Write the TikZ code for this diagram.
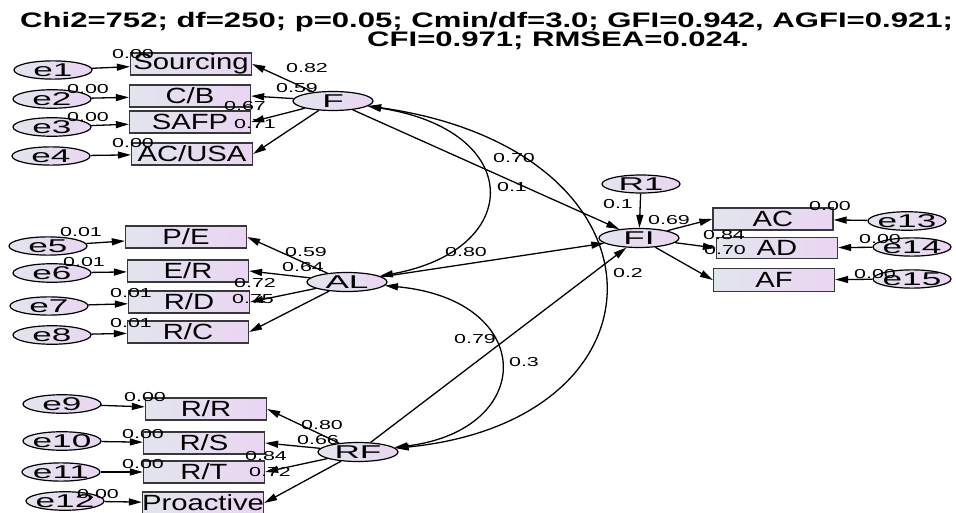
\documentclass[tikz,border=0pt]{standalone}
\usepackage{fontspec}
\setmainfont{Liberation Sans}
\newfontfamily\boxfont{Liberation Sans}[FakeStretch=1.33]
\newfontfamily\ellfont{Liberation Sans}[FakeStretch=1.9]
\newfontfamily\numfont{Liberation Sans}[FakeStretch=1.65]
\newfontfamily\titlefont{Liberation Sans}[FakeStretch=1.48]
\usetikzlibrary{arrows.meta,shapes.geometric}
\definecolor{gl}{RGB}{226,229,238}
\definecolor{gr}{RGB}{234,213,242}
\definecolor{boxc}{RGB}{55,55,60}
\tikzset{
  zerow/.style={execute at begin node={\hbox to 0pt\bgroup\hss}, execute at end node={\hss\egroup}},
  obs/.style={rectangle, draw=boxc, line width=1.3pt, left color=gl, right color=gr,
    minimum width=121pt, minimum height=22pt, inner sep=0pt, zerow,
    font=\boxfont\fontsize{22}{22}\selectfont},
  lat/.style={ellipse, draw=black, line width=1.2pt, left color=gl, right color=gr,
    minimum width=80pt, minimum height=19pt, inner sep=0pt, zerow,
    font=\ellfont\fontsize{18.5}{18.5}\selectfont},
  err/.style={lat, minimum width=78pt, minimum height=18pt},
  tip/.tip={Triangle[length=13pt,width=7pt]},
  arr/.style={line width=1.3pt, -tip},
  cov/.style={line width=1.3pt, tip-tip},
  num/.style={font=\numfont\fontsize{13}{13}\selectfont, inner sep=0pt},
  ttl/.style={font=\titlefont\bfseries\fontsize{21}{21}\selectfont, inner sep=0pt, anchor=base west},
}
\begin{document}
\begin{tikzpicture}[x=1pt,y=-1pt]
\useasboundingbox (0,0) rectangle (956,513);
% title
\node[ttl] (t1) at (20,28) {Chi2=752; df=250; p=0.05; Cmin/df=3.0; GFI=0.942, AGFI=0.921;};
\node[ttl] (t2) at (367,47) {CFI=0.971; RMSEA=0.024.};
% observed indicators (left)
\node[obs] (sou) at (191,64) {Sourcing};
\node[obs] (cb) at (190,96) {C/B};
\node[obs] (safp) at (190,122) {SAFP};
\node[obs] (acusa) at (192,154) {AC/USA};
\node[obs] (pe) at (186,237) {P/E};
\node[obs] (er) at (188,271) {E/R};
\node[obs] (rd) at (189,302) {R/D};
\node[obs] (rc) at (188,332) {R/C};
\node[obs] (rr) at (206,409) {R/R};
\node[obs] (rs) at (204,443) {R/S};
\node[obs] (rt) at (204,472) {R/T};
\node[obs] (pro) at (203,503) {Proactive};
% errors (left)
\node[err] (e1) at (53,70) {e1};
\node[err] (e2) at (52,99) {e2};
\node[err] (e3) at (52,127) {e3};
\node[err] (e4) at (51,156) {e4};
\node[err] (e5) at (48,246) {e5};
\node[err] (e6) at (52,273) {e6};
\node[err] (e7) at (49,306) {e7};
\node[err] (e8) at (52,335) {e8};
\node[err] (e9) at (62,404) {e9};
\node[err] (e10) at (62,441) {e10};
\node[err] (e11) at (61,472) {e11};
\node[err] (e12) at (65,501) {e12};
% latents
\node[lat] (F) at (333,101) {F};
\node[lat] (AL) at (347,282) {AL};
\node[lat] (RF) at (358,452) {RF};
\node[lat] (FI) at (639,238) {FI};
\node[lat, minimum width=78pt, minimum height=18pt] (R1) at (641,184) {R1};
% right indicators
\node[obs, minimum width=120pt] (ac) at (773,219) {AC};
\node[obs, minimum height=21pt] (ad) at (777,248) {AD};
\node[obs, minimum height=23pt] (af) at (774,280) {AF};
\node[err] (e13) at (907,221) {e13};
\node[err] (e14) at (912,247) {e14};
\node[err] (e15) at (912,279) {e15};
% error arrows
\foreach \e/\b in {e1/sou,e2/cb,e3/safp,e4/acusa,e5/pe,e6/er,e7/rd,e8/rc,e9/rr,e10/rs,e11/rt,e12/pro,e13/ac,e14/ad,e15/af}
  \draw[arr] (\e) -- (\b);
% loadings
\foreach \b in {sou,cb,safp,acusa} \draw[arr] (F) -- (\b.east);
\foreach \b in {pe,er,rd,rc} \draw[arr] (AL) -- (\b.east);
\foreach \b in {rr,rs,rt,pro} \draw[arr] (RF) -- (\b.east);
\foreach \b in {ac,ad,af} \draw[arr] (FI) -- (\b.west);
% structural paths
\draw[arr] (F) -- (FI);
\draw[arr] (AL) -- (FI);
\draw[arr] (RF) -- (FI);
\draw[arr] (R1) -- (FI);
% covariances
\draw[cov] (F) .. controls (525,130) and (525,250) .. (AL);
\draw[cov] (F) .. controls (678,150) and (678,420) .. (RF);
\draw[cov] (AL) .. controls (537,300) and (537,430) .. (RF);
% labels: intercepts
\node[num] (n1) at (133,54) {0.00};
\node[num] (n2) at (88,89) {0.00};
\node[num] (n3) at (88,117) {0.00};
\node[num] (n4) at (133,143) {0.00};
\node[num] (n5) at (81,232) {0.01};
\node[num] (n6) at (84,262) {0.01};
\node[num] (n7) at (131,293) {0.01};
\node[num] (n8) at (131,323) {0.01};
\node[num] (n9) at (145,397) {0.00};
\node[num] (n10) at (143,434) {0.00};
\node[num] (n11) at (143,464) {0.00};
\node[num] (n12) at (98,494) {0.00};
\node[num] (n13) at (830,206) {0.00};
\node[num] (n14) at (880,239) {0.00};
\node[num] (n15) at (875,274) {0.00};
% labels: loadings
\node[num] (l1) at (307,68) {0.82};
\node[num] (l2) at (297,88) {0.59};
\node[num] (l3) at (245,106) {0.67};
\node[num] (l4) at (255,124) {0.71};
\node[num] (l5) at (306,252) {0.59};
\node[num] (l6) at (303,267) {0.64};
\node[num] (l7) at (255,283) {0.72};
\node[num] (l8) at (253,299) {0.75};
\node[num] (l9) at (322,425) {0.80};
\node[num] (l10) at (318,440) {0.66};
\node[num] (l11) at (266,456) {0.84};
\node[num] (l12) at (270,472) {0.72};
\node[num] (l13) at (669,220) {0.69};
\node[num] (l14) at (724,235) {0.84};
\node[num] (l15) at (725,250) {0.70};
% labels: structural and covariances
\node[num] (s1) at (514,158) {0.70};
\node[num] (s2) at (512,187) {0.1};
\node[num] (s3) at (466,252) {0.80};
\node[num] (s4) at (475,339) {0.79};
\node[num] (s5) at (524,362) {0.3};
\node[num] (s6) at (628,273) {0.2};
\node[num] (s7) at (618,204) {0.1};
\end{tikzpicture}
\end{document}
